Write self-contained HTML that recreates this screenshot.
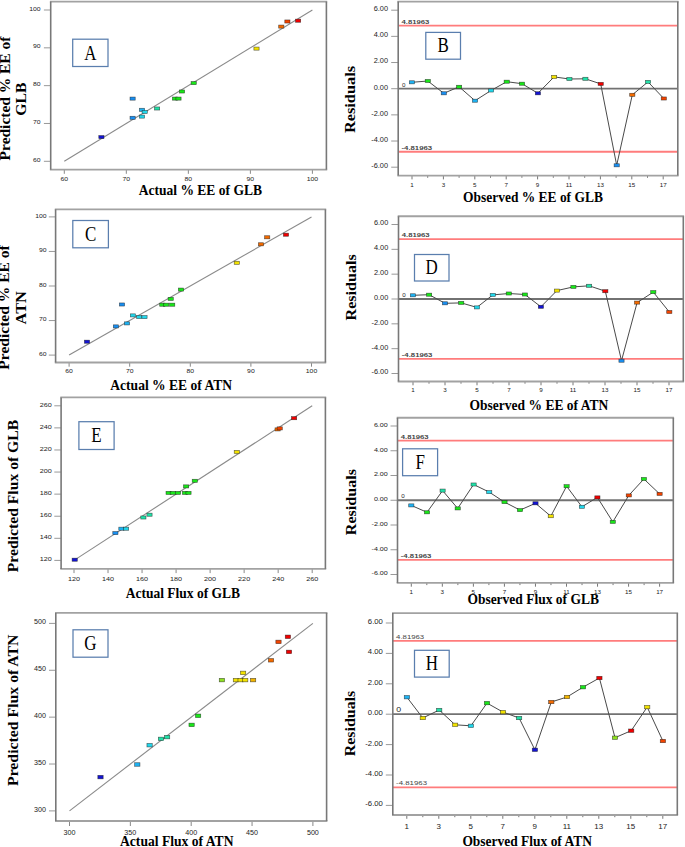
<!DOCTYPE html>
<html><head><meta charset="utf-8"><title>Figure</title>
<style>html,body{margin:0;padding:0;background:#fff;}svg{display:block;}</style></head>
<body>
<svg width="685" height="847" viewBox="0 0 685 847">
<rect x="0" y="0" width="685" height="847" fill="#fff" stroke="none" stroke-width="1" />
<g>
<line x1="64.3" y1="169.6" x2="64.3" y2="173.8" stroke="#888" stroke-width="1" />
<line x1="43.9" y1="161.3" x2="50.7" y2="161.3" stroke="#999" stroke-width="1" />
<text x="64.3" y="180.62" text-anchor="middle" font-family="Liberation Sans" font-size="5.6" fill="#222" textLength="7.6" lengthAdjust="spacingAndGlyphs">60</text>
<text x="40.6" y="161.92" text-anchor="end" font-family="Liberation Sans" font-size="5.6" fill="#222" textLength="7.6" lengthAdjust="spacingAndGlyphs">60</text>
<line x1="126.32" y1="169.6" x2="126.32" y2="173.8" stroke="#888" stroke-width="1" />
<line x1="43.9" y1="123.48" x2="50.7" y2="123.48" stroke="#999" stroke-width="1" />
<text x="126.32" y="180.62" text-anchor="middle" font-family="Liberation Sans" font-size="5.6" fill="#222" textLength="7.6" lengthAdjust="spacingAndGlyphs">70</text>
<text x="40.6" y="124.09" text-anchor="end" font-family="Liberation Sans" font-size="5.6" fill="#222" textLength="7.6" lengthAdjust="spacingAndGlyphs">70</text>
<line x1="188.35" y1="169.6" x2="188.35" y2="173.8" stroke="#888" stroke-width="1" />
<line x1="43.9" y1="85.65" x2="50.7" y2="85.65" stroke="#999" stroke-width="1" />
<text x="188.35" y="180.62" text-anchor="middle" font-family="Liberation Sans" font-size="5.6" fill="#222" textLength="7.6" lengthAdjust="spacingAndGlyphs">80</text>
<text x="40.6" y="86.27" text-anchor="end" font-family="Liberation Sans" font-size="5.6" fill="#222" textLength="7.6" lengthAdjust="spacingAndGlyphs">80</text>
<line x1="250.38" y1="169.6" x2="250.38" y2="173.8" stroke="#888" stroke-width="1" />
<line x1="43.9" y1="47.83" x2="50.7" y2="47.83" stroke="#999" stroke-width="1" />
<text x="250.38" y="180.62" text-anchor="middle" font-family="Liberation Sans" font-size="5.6" fill="#222" textLength="7.6" lengthAdjust="spacingAndGlyphs">90</text>
<text x="40.6" y="48.44" text-anchor="end" font-family="Liberation Sans" font-size="5.6" fill="#222" textLength="7.6" lengthAdjust="spacingAndGlyphs">90</text>
<line x1="312.4" y1="169.6" x2="312.4" y2="173.8" stroke="#888" stroke-width="1" />
<line x1="43.9" y1="10" x2="50.7" y2="10" stroke="#999" stroke-width="1" />
<text x="312.4" y="180.62" text-anchor="middle" font-family="Liberation Sans" font-size="5.6" fill="#222" textLength="11.4" lengthAdjust="spacingAndGlyphs">100</text>
<text x="40.6" y="10.62" text-anchor="end" font-family="Liberation Sans" font-size="5.6" fill="#222" textLength="11.4" lengthAdjust="spacingAndGlyphs">100</text>
<line x1="64.3" y1="161.3" x2="312.4" y2="10" stroke="#8a8a8a" stroke-width="1.1" />
<line x1="49.9" y1="1.6" x2="327.2" y2="1.6" stroke="#a2a2a2" stroke-width="1.9" />
<line x1="49.9" y1="169.6" x2="327.2" y2="169.6" stroke="#a2a2a2" stroke-width="1.9" />
<line x1="50.7" y1="1.6" x2="50.7" y2="169.6" stroke="#787878" stroke-width="1.6" />
<line x1="326.4" y1="1.6" x2="326.4" y2="169.6" stroke="#787878" stroke-width="1.6" />
<rect x="98.8" y="135.55" width="5.2" height="3.1" fill="#1414d2" stroke="#1a1a1a" stroke-width="0.6" stroke-opacity="0.7"/>
<rect x="130" y="97.05" width="5.2" height="3.1" fill="#1a8ff0" stroke="#1a1a1a" stroke-width="0.6" stroke-opacity="0.7"/>
<rect x="130" y="116.25" width="5.2" height="3.1" fill="#1a8ff0" stroke="#1a1a1a" stroke-width="0.6" stroke-opacity="0.7"/>
<rect x="139.4" y="108.25" width="5.2" height="3.1" fill="#1fb2f2" stroke="#1a1a1a" stroke-width="0.6" stroke-opacity="0.7"/>
<rect x="142.1" y="110.45" width="5.2" height="3.1" fill="#22d6ea" stroke="#1a1a1a" stroke-width="0.6" stroke-opacity="0.7"/>
<rect x="139.4" y="115.05" width="5.2" height="3.1" fill="#22d6ea" stroke="#1a1a1a" stroke-width="0.6" stroke-opacity="0.7"/>
<rect x="154.5" y="106.95" width="5.2" height="3.1" fill="#22e0a8" stroke="#1a1a1a" stroke-width="0.6" stroke-opacity="0.7"/>
<rect x="172.4" y="97.05" width="5.2" height="3.1" fill="#1ae61a" stroke="#1a1a1a" stroke-width="0.6" stroke-opacity="0.7"/>
<rect x="175.9" y="97.05" width="5.2" height="3.1" fill="#1ae61a" stroke="#1a1a1a" stroke-width="0.6" stroke-opacity="0.7"/>
<rect x="179.4" y="89.95" width="5.2" height="3.1" fill="#1ae61a" stroke="#1a1a1a" stroke-width="0.6" stroke-opacity="0.7"/>
<rect x="191.1" y="81.55" width="5.2" height="3.1" fill="#1ae61a" stroke="#1a1a1a" stroke-width="0.6" stroke-opacity="0.7"/>
<rect x="253.9" y="47.05" width="5.2" height="3.1" fill="#f2e200" stroke="#1a1a1a" stroke-width="0.6" stroke-opacity="0.7"/>
<rect x="278.7" y="25.05" width="5.2" height="3.1" fill="#f26a00" stroke="#1a1a1a" stroke-width="0.6" stroke-opacity="0.7"/>
<rect x="284.8" y="19.95" width="5.2" height="3.1" fill="#f24400" stroke="#1a1a1a" stroke-width="0.6" stroke-opacity="0.7"/>
<rect x="295.5" y="19.15" width="5.2" height="3.1" fill="#f00000" stroke="#1a1a1a" stroke-width="0.6" stroke-opacity="0.7"/>
<rect x="72.7" y="39.2" width="35.3" height="27.3" fill="#fff" stroke="#5a7eae" stroke-width="1.25" />
<g transform="translate(90.35,59.52) scale(0.84,1)"><text x="0" y="0" text-anchor="middle" font-family="Liberation Serif" font-size="20.2" fill="#000">A</text></g>
<text x="138.7" y="195.3" font-family="Liberation Serif" font-weight="bold" font-size="15.6" fill="#000" textLength="123.3" lengthAdjust="spacingAndGlyphs">Actual % EE of GLB</text>
<g transform="translate(9.6,98.5) scale(0.93,1) rotate(-90)"><text x="0" y="0" text-anchor="middle" font-family="Liberation Serif" font-weight="bold" font-size="15.5" fill="#000" textLength="123.8" lengthAdjust="spacingAndGlyphs">Predicted % EE of</text></g>
<g transform="translate(25.7,99.15) scale(0.93,1) rotate(-90)"><text x="0" y="0" text-anchor="middle" font-family="Liberation Serif" font-weight="bold" font-size="15.5" fill="#000" textLength="33.3" lengthAdjust="spacingAndGlyphs">GLB</text></g>
<line x1="391.2" y1="10.2" x2="398.2" y2="10.2" stroke="#999" stroke-width="1" />
<text x="388" y="11.1" text-anchor="end" font-family="Liberation Sans" font-size="6.4" fill="#222" textLength="14.32" lengthAdjust="spacingAndGlyphs">6.00</text>
<line x1="391.2" y1="36.37" x2="398.2" y2="36.37" stroke="#999" stroke-width="1" />
<text x="388" y="37.27" text-anchor="end" font-family="Liberation Sans" font-size="6.4" fill="#222" textLength="14.32" lengthAdjust="spacingAndGlyphs">4.00</text>
<line x1="391.2" y1="62.53" x2="398.2" y2="62.53" stroke="#999" stroke-width="1" />
<text x="388" y="63.44" text-anchor="end" font-family="Liberation Sans" font-size="6.4" fill="#222" textLength="14.32" lengthAdjust="spacingAndGlyphs">2.00</text>
<line x1="391.2" y1="88.7" x2="398.2" y2="88.7" stroke="#999" stroke-width="1" />
<text x="388" y="89.6" text-anchor="end" font-family="Liberation Sans" font-size="6.4" fill="#222" textLength="14.32" lengthAdjust="spacingAndGlyphs">0.00</text>
<line x1="391.2" y1="114.87" x2="398.2" y2="114.87" stroke="#999" stroke-width="1" />
<text x="388" y="115.77" text-anchor="end" font-family="Liberation Sans" font-size="6.4" fill="#222" textLength="16.77" lengthAdjust="spacingAndGlyphs">-2.00</text>
<line x1="391.2" y1="141.03" x2="398.2" y2="141.03" stroke="#999" stroke-width="1" />
<text x="388" y="141.94" text-anchor="end" font-family="Liberation Sans" font-size="6.4" fill="#222" textLength="16.77" lengthAdjust="spacingAndGlyphs">-4.00</text>
<line x1="391.2" y1="167.2" x2="398.2" y2="167.2" stroke="#999" stroke-width="1" />
<text x="388" y="168.1" text-anchor="end" font-family="Liberation Sans" font-size="6.4" fill="#222" textLength="16.77" lengthAdjust="spacingAndGlyphs">-6.00</text>
<line x1="412" y1="175.6" x2="412" y2="179.4" stroke="#777" stroke-width="1" />
<text x="412" y="187.1" text-anchor="middle" font-family="Liberation Sans" font-size="5.0" fill="#222" textLength="3.48" lengthAdjust="spacingAndGlyphs">1</text>
<line x1="427.7" y1="175.6" x2="427.7" y2="177.8" stroke="#777" stroke-width="1" />
<line x1="443.4" y1="175.6" x2="443.4" y2="179.4" stroke="#777" stroke-width="1" />
<text x="443.4" y="187.1" text-anchor="middle" font-family="Liberation Sans" font-size="5.0" fill="#222" textLength="3.48" lengthAdjust="spacingAndGlyphs">3</text>
<line x1="459.1" y1="175.6" x2="459.1" y2="177.8" stroke="#777" stroke-width="1" />
<line x1="474.8" y1="175.6" x2="474.8" y2="179.4" stroke="#777" stroke-width="1" />
<text x="474.8" y="187.1" text-anchor="middle" font-family="Liberation Sans" font-size="5.0" fill="#222" textLength="3.48" lengthAdjust="spacingAndGlyphs">5</text>
<line x1="490.5" y1="175.6" x2="490.5" y2="177.8" stroke="#777" stroke-width="1" />
<line x1="506.2" y1="175.6" x2="506.2" y2="179.4" stroke="#777" stroke-width="1" />
<text x="506.2" y="187.1" text-anchor="middle" font-family="Liberation Sans" font-size="5.0" fill="#222" textLength="3.48" lengthAdjust="spacingAndGlyphs">7</text>
<line x1="521.9" y1="175.6" x2="521.9" y2="177.8" stroke="#777" stroke-width="1" />
<line x1="537.6" y1="175.6" x2="537.6" y2="179.4" stroke="#777" stroke-width="1" />
<text x="537.6" y="187.1" text-anchor="middle" font-family="Liberation Sans" font-size="5.0" fill="#222" textLength="3.48" lengthAdjust="spacingAndGlyphs">9</text>
<line x1="553.3" y1="175.6" x2="553.3" y2="177.8" stroke="#777" stroke-width="1" />
<line x1="569" y1="175.6" x2="569" y2="179.4" stroke="#777" stroke-width="1" />
<text x="569" y="187.1" text-anchor="middle" font-family="Liberation Sans" font-size="5.0" fill="#222" textLength="6.49" lengthAdjust="spacingAndGlyphs">11</text>
<line x1="584.7" y1="175.6" x2="584.7" y2="177.8" stroke="#777" stroke-width="1" />
<line x1="600.4" y1="175.6" x2="600.4" y2="179.4" stroke="#777" stroke-width="1" />
<text x="600.4" y="187.1" text-anchor="middle" font-family="Liberation Sans" font-size="5.0" fill="#222" textLength="6.95" lengthAdjust="spacingAndGlyphs">13</text>
<line x1="616.1" y1="175.6" x2="616.1" y2="177.8" stroke="#777" stroke-width="1" />
<line x1="631.8" y1="175.6" x2="631.8" y2="179.4" stroke="#777" stroke-width="1" />
<text x="631.8" y="187.1" text-anchor="middle" font-family="Liberation Sans" font-size="5.0" fill="#222" textLength="6.95" lengthAdjust="spacingAndGlyphs">15</text>
<line x1="647.5" y1="175.6" x2="647.5" y2="177.8" stroke="#777" stroke-width="1" />
<line x1="663.2" y1="175.6" x2="663.2" y2="179.4" stroke="#777" stroke-width="1" />
<text x="663.2" y="187.1" text-anchor="middle" font-family="Liberation Sans" font-size="5.0" fill="#222" textLength="6.95" lengthAdjust="spacingAndGlyphs">17</text>
<line x1="398.2" y1="25.64" x2="677.8" y2="25.64" stroke="#ff7c7c" stroke-width="1.8" />
<text x="401.5" y="23.84" font-family="Liberation Sans" font-weight="bold" font-size="4.9" fill="#444" textLength="27.8" lengthAdjust="spacingAndGlyphs">4.81963</text>
<line x1="398.2" y1="151.76" x2="677.8" y2="151.76" stroke="#ff7c7c" stroke-width="1.8" />
<text x="401.5" y="149.96" font-family="Liberation Sans" font-weight="bold" font-size="4.9" fill="#444" textLength="30.58" lengthAdjust="spacingAndGlyphs">-4.81963</text>
<line x1="398.2" y1="88.7" x2="677.8" y2="88.7" stroke="#727272" stroke-width="1.8" />
<text x="403.7" y="86.9" text-anchor="middle" font-family="Liberation Sans" font-size="5.0" fill="#222" textLength="3.48" lengthAdjust="spacingAndGlyphs">0</text>
<polyline points="411.9,82.3 427.8,81 443.8,93.3 459.1,86.8 475,100.7 491,90.5 506.7,81.7 522,83.7 537.9,93.3 554.1,76.9 569.4,79 585.4,78.8 600.7,83.9 616.7,165.3 632.3,94.8 648,81.9 663.8,98.5" fill="none" stroke="#4a4a4a" stroke-width="1"/>
<line x1="397.4" y1="1.6" x2="678.6" y2="1.6" stroke="#a2a2a2" stroke-width="1.9" />
<line x1="397.4" y1="175.6" x2="678.6" y2="175.6" stroke="#a2a2a2" stroke-width="1.9" />
<line x1="398.2" y1="1.6" x2="398.2" y2="175.6" stroke="#787878" stroke-width="1.6" />
<line x1="677.8" y1="1.6" x2="677.8" y2="175.6" stroke="#787878" stroke-width="1.6" />
<rect x="409.3" y="80.75" width="5.2" height="3.1" fill="#1fb2f2" stroke="#1a1a1a" stroke-width="0.6" stroke-opacity="0.7"/>
<rect x="425.2" y="79.45" width="5.2" height="3.1" fill="#1ae61a" stroke="#1a1a1a" stroke-width="0.6" stroke-opacity="0.7"/>
<rect x="441.2" y="91.75" width="5.2" height="3.1" fill="#1a8ff0" stroke="#1a1a1a" stroke-width="0.6" stroke-opacity="0.7"/>
<rect x="456.5" y="85.25" width="5.2" height="3.1" fill="#1ae61a" stroke="#1a1a1a" stroke-width="0.6" stroke-opacity="0.7"/>
<rect x="472.4" y="99.15" width="5.2" height="3.1" fill="#1fb2f2" stroke="#1a1a1a" stroke-width="0.6" stroke-opacity="0.7"/>
<rect x="488.4" y="88.95" width="5.2" height="3.1" fill="#22d6ea" stroke="#1a1a1a" stroke-width="0.6" stroke-opacity="0.7"/>
<rect x="504.1" y="80.15" width="5.2" height="3.1" fill="#1ae61a" stroke="#1a1a1a" stroke-width="0.6" stroke-opacity="0.7"/>
<rect x="519.4" y="82.15" width="5.2" height="3.1" fill="#1ae61a" stroke="#1a1a1a" stroke-width="0.6" stroke-opacity="0.7"/>
<rect x="535.3" y="91.75" width="5.2" height="3.1" fill="#1414d2" stroke="#1a1a1a" stroke-width="0.6" stroke-opacity="0.7"/>
<rect x="551.5" y="75.35" width="5.2" height="3.1" fill="#f2e200" stroke="#1a1a1a" stroke-width="0.6" stroke-opacity="0.7"/>
<rect x="566.8" y="77.45" width="5.2" height="3.1" fill="#22e0a8" stroke="#1a1a1a" stroke-width="0.6" stroke-opacity="0.7"/>
<rect x="582.8" y="77.25" width="5.2" height="3.1" fill="#22e0a8" stroke="#1a1a1a" stroke-width="0.6" stroke-opacity="0.7"/>
<rect x="598.1" y="82.35" width="5.2" height="3.1" fill="#f00000" stroke="#1a1a1a" stroke-width="0.6" stroke-opacity="0.7"/>
<rect x="614.1" y="163.75" width="5.2" height="3.1" fill="#1a8ff0" stroke="#1a1a1a" stroke-width="0.6" stroke-opacity="0.7"/>
<rect x="629.7" y="93.25" width="5.2" height="3.1" fill="#f26a00" stroke="#1a1a1a" stroke-width="0.6" stroke-opacity="0.7"/>
<rect x="645.4" y="80.35" width="5.2" height="3.1" fill="#22e0a8" stroke="#1a1a1a" stroke-width="0.6" stroke-opacity="0.7"/>
<rect x="661.2" y="96.95" width="5.2" height="3.1" fill="#f24400" stroke="#1a1a1a" stroke-width="0.6" stroke-opacity="0.7"/>
<rect x="425.8" y="32.4" width="34.7" height="26.8" fill="#fff" stroke="#5a7eae" stroke-width="1.25" />
<g transform="translate(443.15,52.47) scale(0.84,1)"><text x="0" y="0" text-anchor="middle" font-family="Liberation Serif" font-size="20.2" fill="#000">B</text></g>
<text x="463.1" y="201.7" font-family="Liberation Serif" font-weight="bold" font-size="15" fill="#000" textLength="139.8" lengthAdjust="spacingAndGlyphs">Observed % EE of GLB</text>
<g transform="translate(355.2,99.5) scale(0.93,1) rotate(-90)"><text x="0" y="0" text-anchor="middle" font-family="Liberation Serif" font-weight="bold" font-size="15.5" fill="#000" textLength="67" lengthAdjust="spacingAndGlyphs">Residuals</text></g>
<line x1="69.1" y1="362.5" x2="69.1" y2="366.7" stroke="#888" stroke-width="1" />
<line x1="48.8" y1="355.1" x2="55.6" y2="355.1" stroke="#999" stroke-width="1" />
<text x="69.1" y="373.02" text-anchor="middle" font-family="Liberation Sans" font-size="5.6" fill="#222" textLength="7.6" lengthAdjust="spacingAndGlyphs">60</text>
<text x="46.6" y="355.72" text-anchor="end" font-family="Liberation Sans" font-size="5.6" fill="#222" textLength="7.6" lengthAdjust="spacingAndGlyphs">60</text>
<line x1="129.7" y1="362.5" x2="129.7" y2="366.7" stroke="#888" stroke-width="1" />
<line x1="48.8" y1="320.55" x2="55.6" y2="320.55" stroke="#999" stroke-width="1" />
<text x="129.7" y="373.02" text-anchor="middle" font-family="Liberation Sans" font-size="5.6" fill="#222" textLength="7.6" lengthAdjust="spacingAndGlyphs">70</text>
<text x="46.6" y="321.17" text-anchor="end" font-family="Liberation Sans" font-size="5.6" fill="#222" textLength="7.6" lengthAdjust="spacingAndGlyphs">70</text>
<line x1="190.3" y1="362.5" x2="190.3" y2="366.7" stroke="#888" stroke-width="1" />
<line x1="48.8" y1="286" x2="55.6" y2="286" stroke="#999" stroke-width="1" />
<text x="190.3" y="373.02" text-anchor="middle" font-family="Liberation Sans" font-size="5.6" fill="#222" textLength="7.6" lengthAdjust="spacingAndGlyphs">80</text>
<text x="46.6" y="286.62" text-anchor="end" font-family="Liberation Sans" font-size="5.6" fill="#222" textLength="7.6" lengthAdjust="spacingAndGlyphs">80</text>
<line x1="250.9" y1="362.5" x2="250.9" y2="366.7" stroke="#888" stroke-width="1" />
<line x1="48.8" y1="251.45" x2="55.6" y2="251.45" stroke="#999" stroke-width="1" />
<text x="250.9" y="373.02" text-anchor="middle" font-family="Liberation Sans" font-size="5.6" fill="#222" textLength="7.6" lengthAdjust="spacingAndGlyphs">90</text>
<text x="46.6" y="252.07" text-anchor="end" font-family="Liberation Sans" font-size="5.6" fill="#222" textLength="7.6" lengthAdjust="spacingAndGlyphs">90</text>
<line x1="311.5" y1="362.5" x2="311.5" y2="366.7" stroke="#888" stroke-width="1" />
<line x1="48.8" y1="216.9" x2="55.6" y2="216.9" stroke="#999" stroke-width="1" />
<text x="311.5" y="373.02" text-anchor="middle" font-family="Liberation Sans" font-size="5.6" fill="#222" textLength="11.4" lengthAdjust="spacingAndGlyphs">100</text>
<text x="46.6" y="217.52" text-anchor="end" font-family="Liberation Sans" font-size="5.6" fill="#222" textLength="11.4" lengthAdjust="spacingAndGlyphs">100</text>
<line x1="69.1" y1="355.1" x2="311.5" y2="216.9" stroke="#8a8a8a" stroke-width="1.1" />
<line x1="54.8" y1="209.4" x2="326.2" y2="209.4" stroke="#a2a2a2" stroke-width="1.9" />
<line x1="54.8" y1="362.5" x2="326.2" y2="362.5" stroke="#a2a2a2" stroke-width="1.9" />
<line x1="55.6" y1="209.4" x2="55.6" y2="362.5" stroke="#787878" stroke-width="1.6" />
<line x1="325.4" y1="209.4" x2="325.4" y2="362.5" stroke="#787878" stroke-width="1.6" />
<rect x="84.4" y="340.15" width="5.2" height="3.1" fill="#1414d2" stroke="#1a1a1a" stroke-width="0.6" stroke-opacity="0.7"/>
<rect x="113.3" y="324.85" width="5.2" height="3.1" fill="#1a8ff0" stroke="#1a1a1a" stroke-width="0.6" stroke-opacity="0.7"/>
<rect x="124.4" y="321.85" width="5.2" height="3.1" fill="#1fb2f2" stroke="#1a1a1a" stroke-width="0.6" stroke-opacity="0.7"/>
<rect x="119.4" y="302.95" width="5.2" height="3.1" fill="#1a8ff0" stroke="#1a1a1a" stroke-width="0.6" stroke-opacity="0.7"/>
<rect x="130.3" y="313.85" width="5.2" height="3.1" fill="#22d6ea" stroke="#1a1a1a" stroke-width="0.6" stroke-opacity="0.7"/>
<rect x="136.6" y="315.45" width="5.2" height="3.1" fill="#22d6ea" stroke="#1a1a1a" stroke-width="0.6" stroke-opacity="0.7"/>
<rect x="141.9" y="315.55" width="5.2" height="3.1" fill="#22d6ea" stroke="#1a1a1a" stroke-width="0.6" stroke-opacity="0.7"/>
<rect x="159.7" y="303.15" width="5.2" height="3.1" fill="#1ae61a" stroke="#1a1a1a" stroke-width="0.6" stroke-opacity="0.7"/>
<rect x="163.6" y="303.15" width="5.2" height="3.1" fill="#1ae61a" stroke="#1a1a1a" stroke-width="0.6" stroke-opacity="0.7"/>
<rect x="169.6" y="303.15" width="5.2" height="3.1" fill="#1ae61a" stroke="#1a1a1a" stroke-width="0.6" stroke-opacity="0.7"/>
<rect x="168.1" y="297.35" width="5.2" height="3.1" fill="#1ae61a" stroke="#1a1a1a" stroke-width="0.6" stroke-opacity="0.7"/>
<rect x="178.4" y="288.05" width="5.2" height="3.1" fill="#1ae61a" stroke="#1a1a1a" stroke-width="0.6" stroke-opacity="0.7"/>
<rect x="234.2" y="261.25" width="5.2" height="3.1" fill="#f2e200" stroke="#1a1a1a" stroke-width="0.6" stroke-opacity="0.7"/>
<rect x="258.4" y="242.75" width="5.2" height="3.1" fill="#f26a00" stroke="#1a1a1a" stroke-width="0.6" stroke-opacity="0.7"/>
<rect x="264.6" y="235.75" width="5.2" height="3.1" fill="#f26a00" stroke="#1a1a1a" stroke-width="0.6" stroke-opacity="0.7"/>
<rect x="283.4" y="233.15" width="5.2" height="3.1" fill="#f00000" stroke="#1a1a1a" stroke-width="0.6" stroke-opacity="0.7"/>
<rect x="72.8" y="220.5" width="35.6" height="27.3" fill="#fff" stroke="#5a7eae" stroke-width="1.25" />
<g transform="translate(90.6,240.82) scale(0.84,1)"><text x="0" y="0" text-anchor="middle" font-family="Liberation Serif" font-size="20.2" fill="#000">C</text></g>
<text x="110.3" y="389.7" font-family="Liberation Serif" font-weight="bold" font-size="15" fill="#000" textLength="121.7" lengthAdjust="spacingAndGlyphs">Actual % EE of ATN</text>
<g transform="translate(9.4,307.45) scale(0.93,1) rotate(-90)"><text x="0" y="0" text-anchor="middle" font-family="Liberation Serif" font-weight="bold" font-size="15.5" fill="#000" textLength="124.5" lengthAdjust="spacingAndGlyphs">Predicted % EE of</text></g>
<g transform="translate(26,307.85) scale(0.93,1) rotate(-90)"><text x="0" y="0" text-anchor="middle" font-family="Liberation Serif" font-weight="bold" font-size="15.5" fill="#000" textLength="33.1" lengthAdjust="spacingAndGlyphs">ATN</text></g>
<line x1="391.5" y1="224.5" x2="398.5" y2="224.5" stroke="#999" stroke-width="1" />
<text x="388.3" y="225.4" text-anchor="end" font-family="Liberation Sans" font-size="6.4" fill="#222" textLength="14.32" lengthAdjust="spacingAndGlyphs">6.00</text>
<line x1="391.5" y1="249.33" x2="398.5" y2="249.33" stroke="#999" stroke-width="1" />
<text x="388.3" y="250.24" text-anchor="end" font-family="Liberation Sans" font-size="6.4" fill="#222" textLength="14.32" lengthAdjust="spacingAndGlyphs">4.00</text>
<line x1="391.5" y1="274.17" x2="398.5" y2="274.17" stroke="#999" stroke-width="1" />
<text x="388.3" y="275.07" text-anchor="end" font-family="Liberation Sans" font-size="6.4" fill="#222" textLength="14.32" lengthAdjust="spacingAndGlyphs">2.00</text>
<line x1="391.5" y1="299" x2="398.5" y2="299" stroke="#999" stroke-width="1" />
<text x="388.3" y="299.9" text-anchor="end" font-family="Liberation Sans" font-size="6.4" fill="#222" textLength="14.32" lengthAdjust="spacingAndGlyphs">0.00</text>
<line x1="391.5" y1="323.83" x2="398.5" y2="323.83" stroke="#999" stroke-width="1" />
<text x="388.3" y="324.74" text-anchor="end" font-family="Liberation Sans" font-size="6.4" fill="#222" textLength="16.77" lengthAdjust="spacingAndGlyphs">-2.00</text>
<line x1="391.5" y1="348.67" x2="398.5" y2="348.67" stroke="#999" stroke-width="1" />
<text x="388.3" y="349.57" text-anchor="end" font-family="Liberation Sans" font-size="6.4" fill="#222" textLength="16.77" lengthAdjust="spacingAndGlyphs">-4.00</text>
<line x1="391.5" y1="373.5" x2="398.5" y2="373.5" stroke="#999" stroke-width="1" />
<text x="388.3" y="374.4" text-anchor="end" font-family="Liberation Sans" font-size="6.4" fill="#222" textLength="16.77" lengthAdjust="spacingAndGlyphs">-6.00</text>
<line x1="413" y1="381.5" x2="413" y2="385.3" stroke="#777" stroke-width="1" />
<text x="413" y="392.3" text-anchor="middle" font-family="Liberation Sans" font-size="5.0" fill="#222" textLength="3.48" lengthAdjust="spacingAndGlyphs">1</text>
<line x1="429" y1="381.5" x2="429" y2="383.7" stroke="#777" stroke-width="1" />
<line x1="445" y1="381.5" x2="445" y2="385.3" stroke="#777" stroke-width="1" />
<text x="445" y="392.3" text-anchor="middle" font-family="Liberation Sans" font-size="5.0" fill="#222" textLength="3.48" lengthAdjust="spacingAndGlyphs">3</text>
<line x1="461" y1="381.5" x2="461" y2="383.7" stroke="#777" stroke-width="1" />
<line x1="477" y1="381.5" x2="477" y2="385.3" stroke="#777" stroke-width="1" />
<text x="477" y="392.3" text-anchor="middle" font-family="Liberation Sans" font-size="5.0" fill="#222" textLength="3.48" lengthAdjust="spacingAndGlyphs">5</text>
<line x1="493" y1="381.5" x2="493" y2="383.7" stroke="#777" stroke-width="1" />
<line x1="509" y1="381.5" x2="509" y2="385.3" stroke="#777" stroke-width="1" />
<text x="509" y="392.3" text-anchor="middle" font-family="Liberation Sans" font-size="5.0" fill="#222" textLength="3.48" lengthAdjust="spacingAndGlyphs">7</text>
<line x1="525" y1="381.5" x2="525" y2="383.7" stroke="#777" stroke-width="1" />
<line x1="541" y1="381.5" x2="541" y2="385.3" stroke="#777" stroke-width="1" />
<text x="541" y="392.3" text-anchor="middle" font-family="Liberation Sans" font-size="5.0" fill="#222" textLength="3.48" lengthAdjust="spacingAndGlyphs">9</text>
<line x1="557" y1="381.5" x2="557" y2="383.7" stroke="#777" stroke-width="1" />
<line x1="573" y1="381.5" x2="573" y2="385.3" stroke="#777" stroke-width="1" />
<text x="573" y="392.3" text-anchor="middle" font-family="Liberation Sans" font-size="5.0" fill="#222" textLength="6.49" lengthAdjust="spacingAndGlyphs">11</text>
<line x1="589" y1="381.5" x2="589" y2="383.7" stroke="#777" stroke-width="1" />
<line x1="605" y1="381.5" x2="605" y2="385.3" stroke="#777" stroke-width="1" />
<text x="605" y="392.3" text-anchor="middle" font-family="Liberation Sans" font-size="5.0" fill="#222" textLength="6.95" lengthAdjust="spacingAndGlyphs">13</text>
<line x1="621" y1="381.5" x2="621" y2="383.7" stroke="#777" stroke-width="1" />
<line x1="637" y1="381.5" x2="637" y2="385.3" stroke="#777" stroke-width="1" />
<text x="637" y="392.3" text-anchor="middle" font-family="Liberation Sans" font-size="5.0" fill="#222" textLength="6.95" lengthAdjust="spacingAndGlyphs">15</text>
<line x1="653" y1="381.5" x2="653" y2="383.7" stroke="#777" stroke-width="1" />
<line x1="669" y1="381.5" x2="669" y2="385.3" stroke="#777" stroke-width="1" />
<text x="669" y="392.3" text-anchor="middle" font-family="Liberation Sans" font-size="5.0" fill="#222" textLength="6.95" lengthAdjust="spacingAndGlyphs">17</text>
<line x1="398.5" y1="239.16" x2="683.3" y2="239.16" stroke="#ff7c7c" stroke-width="1.8" />
<text x="401.8" y="237.36" font-family="Liberation Sans" font-weight="bold" font-size="4.9" fill="#444" textLength="27.8" lengthAdjust="spacingAndGlyphs">4.81963</text>
<line x1="398.5" y1="358.84" x2="683.3" y2="358.84" stroke="#ff7c7c" stroke-width="1.8" />
<text x="401.8" y="357.04" font-family="Liberation Sans" font-weight="bold" font-size="4.9" fill="#444" textLength="30.58" lengthAdjust="spacingAndGlyphs">-4.81963</text>
<line x1="398.5" y1="299" x2="683.3" y2="299" stroke="#727272" stroke-width="1.8" />
<text x="404" y="297.2" text-anchor="middle" font-family="Liberation Sans" font-size="5.0" fill="#222" textLength="3.48" lengthAdjust="spacingAndGlyphs">0</text>
<polyline points="412.9,295.3 429.1,294.7 445,303.3 461.2,302.9 476.9,307.4 492.8,294.9 508.8,293.5 524.9,294.5 540.9,306.8 556.9,290.6 573.4,286.9 589.1,285.8 605.3,291.2 621.5,360.7 637.1,302.6 653.3,292.1 669.3,312" fill="none" stroke="#4a4a4a" stroke-width="1"/>
<line x1="397.7" y1="216.3" x2="684.1" y2="216.3" stroke="#a2a2a2" stroke-width="1.9" />
<line x1="397.7" y1="381.5" x2="684.1" y2="381.5" stroke="#a2a2a2" stroke-width="1.9" />
<line x1="398.5" y1="216.3" x2="398.5" y2="381.5" stroke="#787878" stroke-width="1.6" />
<line x1="683.3" y1="216.3" x2="683.3" y2="381.5" stroke="#787878" stroke-width="1.6" />
<rect x="410.3" y="293.75" width="5.2" height="3.1" fill="#1fb2f2" stroke="#1a1a1a" stroke-width="0.6" stroke-opacity="0.7"/>
<rect x="426.5" y="293.15" width="5.2" height="3.1" fill="#1ae61a" stroke="#1a1a1a" stroke-width="0.6" stroke-opacity="0.7"/>
<rect x="442.4" y="301.75" width="5.2" height="3.1" fill="#1a8ff0" stroke="#1a1a1a" stroke-width="0.6" stroke-opacity="0.7"/>
<rect x="458.6" y="301.35" width="5.2" height="3.1" fill="#1ae61a" stroke="#1a1a1a" stroke-width="0.6" stroke-opacity="0.7"/>
<rect x="474.3" y="305.85" width="5.2" height="3.1" fill="#22d6ea" stroke="#1a1a1a" stroke-width="0.6" stroke-opacity="0.7"/>
<rect x="490.2" y="293.35" width="5.2" height="3.1" fill="#22d6ea" stroke="#1a1a1a" stroke-width="0.6" stroke-opacity="0.7"/>
<rect x="506.2" y="291.95" width="5.2" height="3.1" fill="#1ae61a" stroke="#1a1a1a" stroke-width="0.6" stroke-opacity="0.7"/>
<rect x="522.3" y="292.95" width="5.2" height="3.1" fill="#1ae61a" stroke="#1a1a1a" stroke-width="0.6" stroke-opacity="0.7"/>
<rect x="538.3" y="305.25" width="5.2" height="3.1" fill="#1414d2" stroke="#1a1a1a" stroke-width="0.6" stroke-opacity="0.7"/>
<rect x="554.3" y="289.05" width="5.2" height="3.1" fill="#f2e200" stroke="#1a1a1a" stroke-width="0.6" stroke-opacity="0.7"/>
<rect x="570.8" y="285.35" width="5.2" height="3.1" fill="#1ae61a" stroke="#1a1a1a" stroke-width="0.6" stroke-opacity="0.7"/>
<rect x="586.5" y="284.25" width="5.2" height="3.1" fill="#22e0a8" stroke="#1a1a1a" stroke-width="0.6" stroke-opacity="0.7"/>
<rect x="602.7" y="289.65" width="5.2" height="3.1" fill="#f00000" stroke="#1a1a1a" stroke-width="0.6" stroke-opacity="0.7"/>
<rect x="618.9" y="359.15" width="5.2" height="3.1" fill="#1a8ff0" stroke="#1a1a1a" stroke-width="0.6" stroke-opacity="0.7"/>
<rect x="634.5" y="301.05" width="5.2" height="3.1" fill="#f26a00" stroke="#1a1a1a" stroke-width="0.6" stroke-opacity="0.7"/>
<rect x="650.7" y="290.55" width="5.2" height="3.1" fill="#1ae61a" stroke="#1a1a1a" stroke-width="0.6" stroke-opacity="0.7"/>
<rect x="666.7" y="310.45" width="5.2" height="3.1" fill="#f24400" stroke="#1a1a1a" stroke-width="0.6" stroke-opacity="0.7"/>
<rect x="414.5" y="254.5" width="34.5" height="26.5" fill="#fff" stroke="#5a7eae" stroke-width="1.25" />
<g transform="translate(431.75,274.42) scale(0.84,1)"><text x="0" y="0" text-anchor="middle" font-family="Liberation Serif" font-size="20.2" fill="#000">D</text></g>
<text x="469.6" y="409.5" font-family="Liberation Serif" font-weight="bold" font-size="15" fill="#000" textLength="138.6" lengthAdjust="spacingAndGlyphs">Observed % EE of ATN</text>
<g transform="translate(355.6,287.4) scale(0.93,1) rotate(-90)"><text x="0" y="0" text-anchor="middle" font-family="Liberation Serif" font-weight="bold" font-size="15.5" fill="#000" textLength="66.2" lengthAdjust="spacingAndGlyphs">Residuals</text></g>
<line x1="74" y1="568.9" x2="74" y2="573.1" stroke="#888" stroke-width="1" />
<line x1="54.3" y1="560.4" x2="61.1" y2="560.4" stroke="#999" stroke-width="1" />
<text x="74" y="580.5" text-anchor="middle" font-family="Liberation Sans" font-size="6.1" fill="#222" textLength="12.01" lengthAdjust="spacingAndGlyphs">120</text>
<text x="51.8" y="561.2" text-anchor="end" font-family="Liberation Sans" font-size="6.1" fill="#222" textLength="12.01" lengthAdjust="spacingAndGlyphs">120</text>
<line x1="108.03" y1="568.9" x2="108.03" y2="573.1" stroke="#888" stroke-width="1" />
<line x1="54.3" y1="538.31" x2="61.1" y2="538.31" stroke="#999" stroke-width="1" />
<text x="108.03" y="580.5" text-anchor="middle" font-family="Liberation Sans" font-size="6.1" fill="#222" textLength="12.01" lengthAdjust="spacingAndGlyphs">140</text>
<text x="51.8" y="539.11" text-anchor="end" font-family="Liberation Sans" font-size="6.1" fill="#222" textLength="12.01" lengthAdjust="spacingAndGlyphs">140</text>
<line x1="142.06" y1="568.9" x2="142.06" y2="573.1" stroke="#888" stroke-width="1" />
<line x1="54.3" y1="516.23" x2="61.1" y2="516.23" stroke="#999" stroke-width="1" />
<text x="142.06" y="580.5" text-anchor="middle" font-family="Liberation Sans" font-size="6.1" fill="#222" textLength="12.01" lengthAdjust="spacingAndGlyphs">160</text>
<text x="51.8" y="517.02" text-anchor="end" font-family="Liberation Sans" font-size="6.1" fill="#222" textLength="12.01" lengthAdjust="spacingAndGlyphs">160</text>
<line x1="176.09" y1="568.9" x2="176.09" y2="573.1" stroke="#888" stroke-width="1" />
<line x1="54.3" y1="494.14" x2="61.1" y2="494.14" stroke="#999" stroke-width="1" />
<text x="176.09" y="580.5" text-anchor="middle" font-family="Liberation Sans" font-size="6.1" fill="#222" textLength="12.01" lengthAdjust="spacingAndGlyphs">180</text>
<text x="51.8" y="494.94" text-anchor="end" font-family="Liberation Sans" font-size="6.1" fill="#222" textLength="12.01" lengthAdjust="spacingAndGlyphs">180</text>
<line x1="210.11" y1="568.9" x2="210.11" y2="573.1" stroke="#888" stroke-width="1" />
<line x1="54.3" y1="472.06" x2="61.1" y2="472.06" stroke="#999" stroke-width="1" />
<text x="210.11" y="580.5" text-anchor="middle" font-family="Liberation Sans" font-size="6.1" fill="#222" textLength="12.01" lengthAdjust="spacingAndGlyphs">200</text>
<text x="51.8" y="472.85" text-anchor="end" font-family="Liberation Sans" font-size="6.1" fill="#222" textLength="12.01" lengthAdjust="spacingAndGlyphs">200</text>
<line x1="244.14" y1="568.9" x2="244.14" y2="573.1" stroke="#888" stroke-width="1" />
<line x1="54.3" y1="449.97" x2="61.1" y2="449.97" stroke="#999" stroke-width="1" />
<text x="244.14" y="580.5" text-anchor="middle" font-family="Liberation Sans" font-size="6.1" fill="#222" textLength="12.01" lengthAdjust="spacingAndGlyphs">220</text>
<text x="51.8" y="450.77" text-anchor="end" font-family="Liberation Sans" font-size="6.1" fill="#222" textLength="12.01" lengthAdjust="spacingAndGlyphs">220</text>
<line x1="278.17" y1="568.9" x2="278.17" y2="573.1" stroke="#888" stroke-width="1" />
<line x1="54.3" y1="427.89" x2="61.1" y2="427.89" stroke="#999" stroke-width="1" />
<text x="278.17" y="580.5" text-anchor="middle" font-family="Liberation Sans" font-size="6.1" fill="#222" textLength="12.01" lengthAdjust="spacingAndGlyphs">240</text>
<text x="51.8" y="428.68" text-anchor="end" font-family="Liberation Sans" font-size="6.1" fill="#222" textLength="12.01" lengthAdjust="spacingAndGlyphs">240</text>
<line x1="312.2" y1="568.9" x2="312.2" y2="573.1" stroke="#888" stroke-width="1" />
<line x1="54.3" y1="405.8" x2="61.1" y2="405.8" stroke="#999" stroke-width="1" />
<text x="312.2" y="580.5" text-anchor="middle" font-family="Liberation Sans" font-size="6.1" fill="#222" textLength="12.01" lengthAdjust="spacingAndGlyphs">260</text>
<text x="51.8" y="406.6" text-anchor="end" font-family="Liberation Sans" font-size="6.1" fill="#222" textLength="12.01" lengthAdjust="spacingAndGlyphs">260</text>
<line x1="74" y1="560.4" x2="312.2" y2="405.8" stroke="#8a8a8a" stroke-width="1.1" />
<line x1="60.3" y1="397.4" x2="326.2" y2="397.4" stroke="#a2a2a2" stroke-width="1.9" />
<line x1="60.3" y1="568.9" x2="326.2" y2="568.9" stroke="#a2a2a2" stroke-width="1.9" />
<line x1="61.1" y1="397.4" x2="61.1" y2="568.9" stroke="#787878" stroke-width="1.6" />
<line x1="325.4" y1="397.4" x2="325.4" y2="568.9" stroke="#787878" stroke-width="1.6" />
<rect x="72.1" y="558.15" width="5.2" height="3.1" fill="#1414d2" stroke="#1a1a1a" stroke-width="0.6" stroke-opacity="0.7"/>
<rect x="112.8" y="531.55" width="5.2" height="3.1" fill="#1a8ff0" stroke="#1a1a1a" stroke-width="0.6" stroke-opacity="0.7"/>
<rect x="118.8" y="527.15" width="5.2" height="3.1" fill="#1fb2f2" stroke="#1a1a1a" stroke-width="0.6" stroke-opacity="0.7"/>
<rect x="123.5" y="527.15" width="5.2" height="3.1" fill="#22d6ea" stroke="#1a1a1a" stroke-width="0.6" stroke-opacity="0.7"/>
<rect x="140.8" y="515.95" width="5.2" height="3.1" fill="#22e0a8" stroke="#1a1a1a" stroke-width="0.6" stroke-opacity="0.7"/>
<rect x="146.9" y="513.15" width="5.2" height="3.1" fill="#22e0a8" stroke="#1a1a1a" stroke-width="0.6" stroke-opacity="0.7"/>
<rect x="166" y="491.35" width="5.2" height="3.1" fill="#1ae61a" stroke="#1a1a1a" stroke-width="0.6" stroke-opacity="0.7"/>
<rect x="170.2" y="491.35" width="5.2" height="3.1" fill="#1ae61a" stroke="#1a1a1a" stroke-width="0.6" stroke-opacity="0.7"/>
<rect x="175.4" y="491.35" width="5.2" height="3.1" fill="#1ae61a" stroke="#1a1a1a" stroke-width="0.6" stroke-opacity="0.7"/>
<rect x="182.4" y="491.35" width="5.2" height="3.1" fill="#1ae61a" stroke="#1a1a1a" stroke-width="0.6" stroke-opacity="0.7"/>
<rect x="185.9" y="491.35" width="5.2" height="3.1" fill="#1ae61a" stroke="#1a1a1a" stroke-width="0.6" stroke-opacity="0.7"/>
<rect x="183.5" y="484.85" width="5.2" height="3.1" fill="#1ae61a" stroke="#1a1a1a" stroke-width="0.6" stroke-opacity="0.7"/>
<rect x="192.2" y="479.25" width="5.2" height="3.1" fill="#1ae61a" stroke="#1a1a1a" stroke-width="0.6" stroke-opacity="0.7"/>
<rect x="234.2" y="450.45" width="5.2" height="3.1" fill="#f2e200" stroke="#1a1a1a" stroke-width="0.6" stroke-opacity="0.7"/>
<rect x="275" y="427.85" width="5.2" height="3.1" fill="#f26a00" stroke="#1a1a1a" stroke-width="0.6" stroke-opacity="0.7"/>
<rect x="277.1" y="426.85" width="5.2" height="3.1" fill="#f24400" stroke="#1a1a1a" stroke-width="0.6" stroke-opacity="0.7"/>
<rect x="291.5" y="416.65" width="5.2" height="3.1" fill="#f00000" stroke="#1a1a1a" stroke-width="0.6" stroke-opacity="0.7"/>
<rect x="78.9" y="421.7" width="35.2" height="27.8" fill="#fff" stroke="#5a7eae" stroke-width="1.25" />
<g transform="translate(96.5,442.27) scale(0.84,1)"><text x="0" y="0" text-anchor="middle" font-family="Liberation Serif" font-size="20.2" fill="#000">E</text></g>
<g transform="translate(17.5,496) scale(0.93,1) rotate(-90)"><text x="0" y="0" text-anchor="middle" font-family="Liberation Serif" font-weight="bold" font-size="15.5" fill="#000" textLength="152.4" lengthAdjust="spacingAndGlyphs">Predicted Flux of GLB</text></g>
<line x1="390.5" y1="426" x2="397.5" y2="426" stroke="#999" stroke-width="1" />
<text x="387.8" y="426.83" text-anchor="end" font-family="Liberation Sans" font-size="6.2" fill="#222" textLength="13.88" lengthAdjust="spacingAndGlyphs">6.00</text>
<line x1="390.5" y1="450.75" x2="397.5" y2="450.75" stroke="#999" stroke-width="1" />
<text x="387.8" y="451.58" text-anchor="end" font-family="Liberation Sans" font-size="6.2" fill="#222" textLength="13.88" lengthAdjust="spacingAndGlyphs">4.00</text>
<line x1="390.5" y1="475.5" x2="397.5" y2="475.5" stroke="#999" stroke-width="1" />
<text x="387.8" y="476.33" text-anchor="end" font-family="Liberation Sans" font-size="6.2" fill="#222" textLength="13.88" lengthAdjust="spacingAndGlyphs">2.00</text>
<line x1="390.5" y1="500.25" x2="397.5" y2="500.25" stroke="#999" stroke-width="1" />
<text x="387.8" y="501.08" text-anchor="end" font-family="Liberation Sans" font-size="6.2" fill="#222" textLength="13.88" lengthAdjust="spacingAndGlyphs">0.00</text>
<line x1="390.5" y1="525" x2="397.5" y2="525" stroke="#999" stroke-width="1" />
<text x="387.8" y="525.83" text-anchor="end" font-family="Liberation Sans" font-size="6.2" fill="#222" textLength="16.25" lengthAdjust="spacingAndGlyphs">-2.00</text>
<line x1="390.5" y1="549.75" x2="397.5" y2="549.75" stroke="#999" stroke-width="1" />
<text x="387.8" y="550.58" text-anchor="end" font-family="Liberation Sans" font-size="6.2" fill="#222" textLength="16.25" lengthAdjust="spacingAndGlyphs">-4.00</text>
<line x1="390.5" y1="574.5" x2="397.5" y2="574.5" stroke="#999" stroke-width="1" />
<text x="387.8" y="575.33" text-anchor="end" font-family="Liberation Sans" font-size="6.2" fill="#222" textLength="16.25" lengthAdjust="spacingAndGlyphs">-6.00</text>
<line x1="411.3" y1="582.9" x2="411.3" y2="586.7" stroke="#777" stroke-width="1" />
<text x="411.3" y="593.6" text-anchor="middle" font-family="Liberation Sans" font-size="5.0" fill="#222" textLength="3.48" lengthAdjust="spacingAndGlyphs">1</text>
<line x1="426.82" y1="582.9" x2="426.82" y2="585.1" stroke="#777" stroke-width="1" />
<line x1="442.34" y1="582.9" x2="442.34" y2="586.7" stroke="#777" stroke-width="1" />
<text x="442.34" y="593.6" text-anchor="middle" font-family="Liberation Sans" font-size="5.0" fill="#222" textLength="3.48" lengthAdjust="spacingAndGlyphs">3</text>
<line x1="457.86" y1="582.9" x2="457.86" y2="585.1" stroke="#777" stroke-width="1" />
<line x1="473.38" y1="582.9" x2="473.38" y2="586.7" stroke="#777" stroke-width="1" />
<text x="473.38" y="593.6" text-anchor="middle" font-family="Liberation Sans" font-size="5.0" fill="#222" textLength="3.48" lengthAdjust="spacingAndGlyphs">5</text>
<line x1="488.9" y1="582.9" x2="488.9" y2="585.1" stroke="#777" stroke-width="1" />
<line x1="504.42" y1="582.9" x2="504.42" y2="586.7" stroke="#777" stroke-width="1" />
<text x="504.42" y="593.6" text-anchor="middle" font-family="Liberation Sans" font-size="5.0" fill="#222" textLength="3.48" lengthAdjust="spacingAndGlyphs">7</text>
<line x1="519.94" y1="582.9" x2="519.94" y2="585.1" stroke="#777" stroke-width="1" />
<line x1="535.46" y1="582.9" x2="535.46" y2="586.7" stroke="#777" stroke-width="1" />
<text x="535.46" y="593.6" text-anchor="middle" font-family="Liberation Sans" font-size="5.0" fill="#222" textLength="3.48" lengthAdjust="spacingAndGlyphs">9</text>
<line x1="550.98" y1="582.9" x2="550.98" y2="585.1" stroke="#777" stroke-width="1" />
<line x1="566.5" y1="582.9" x2="566.5" y2="586.7" stroke="#777" stroke-width="1" />
<text x="566.5" y="593.6" text-anchor="middle" font-family="Liberation Sans" font-size="5.0" fill="#222" textLength="6.49" lengthAdjust="spacingAndGlyphs">11</text>
<line x1="582.02" y1="582.9" x2="582.02" y2="585.1" stroke="#777" stroke-width="1" />
<line x1="597.54" y1="582.9" x2="597.54" y2="586.7" stroke="#777" stroke-width="1" />
<text x="597.54" y="593.6" text-anchor="middle" font-family="Liberation Sans" font-size="5.0" fill="#222" textLength="6.95" lengthAdjust="spacingAndGlyphs">13</text>
<line x1="613.06" y1="582.9" x2="613.06" y2="585.1" stroke="#777" stroke-width="1" />
<line x1="628.58" y1="582.9" x2="628.58" y2="586.7" stroke="#777" stroke-width="1" />
<text x="628.58" y="593.6" text-anchor="middle" font-family="Liberation Sans" font-size="5.0" fill="#222" textLength="6.95" lengthAdjust="spacingAndGlyphs">15</text>
<line x1="644.1" y1="582.9" x2="644.1" y2="585.1" stroke="#777" stroke-width="1" />
<line x1="659.62" y1="582.9" x2="659.62" y2="586.7" stroke="#777" stroke-width="1" />
<text x="659.62" y="593.6" text-anchor="middle" font-family="Liberation Sans" font-size="5.0" fill="#222" textLength="6.95" lengthAdjust="spacingAndGlyphs">17</text>
<line x1="397.5" y1="440.61" x2="673.3" y2="440.61" stroke="#ff7c7c" stroke-width="1.8" />
<text x="400.8" y="438.81" font-family="Liberation Sans" font-weight="bold" font-size="4.9" fill="#444" textLength="27.8" lengthAdjust="spacingAndGlyphs">4.81963</text>
<line x1="397.5" y1="559.89" x2="673.3" y2="559.89" stroke="#ff7c7c" stroke-width="1.8" />
<text x="400.8" y="558.09" font-family="Liberation Sans" font-weight="bold" font-size="4.9" fill="#444" textLength="30.58" lengthAdjust="spacingAndGlyphs">-4.81963</text>
<line x1="397.5" y1="500.25" x2="673.3" y2="500.25" stroke="#727272" stroke-width="1.8" />
<text x="403" y="498.45" text-anchor="middle" font-family="Liberation Sans" font-size="5.0" fill="#222" textLength="3.48" lengthAdjust="spacingAndGlyphs">0</text>
<polyline points="411.3,505.4 427,512.3 442.6,490.6 457.7,508.4 473.6,484.5 489.2,492.1 504.5,502.1 520,510.1 535.5,503.3 550.8,516.2 566.6,486.2 581.9,506.8 597.4,497.4 612.8,521.9 628.8,495.4 643.9,479 659.6,493.9" fill="none" stroke="#4a4a4a" stroke-width="1"/>
<line x1="396.7" y1="417.8" x2="674.1" y2="417.8" stroke="#a2a2a2" stroke-width="1.9" />
<line x1="396.7" y1="582.9" x2="674.1" y2="582.9" stroke="#a2a2a2" stroke-width="1.9" />
<line x1="397.5" y1="417.8" x2="397.5" y2="582.9" stroke="#787878" stroke-width="1.6" />
<line x1="673.3" y1="417.8" x2="673.3" y2="582.9" stroke="#787878" stroke-width="1.6" />
<rect x="408.7" y="503.85" width="5.2" height="3.1" fill="#1fb2f2" stroke="#1a1a1a" stroke-width="0.6" stroke-opacity="0.7"/>
<rect x="424.4" y="510.75" width="5.2" height="3.1" fill="#1ae61a" stroke="#1a1a1a" stroke-width="0.6" stroke-opacity="0.7"/>
<rect x="440" y="489.05" width="5.2" height="3.1" fill="#22e0a8" stroke="#1a1a1a" stroke-width="0.6" stroke-opacity="0.7"/>
<rect x="455.1" y="506.85" width="5.2" height="3.1" fill="#1ae61a" stroke="#1a1a1a" stroke-width="0.6" stroke-opacity="0.7"/>
<rect x="471" y="482.95" width="5.2" height="3.1" fill="#22e0a8" stroke="#1a1a1a" stroke-width="0.6" stroke-opacity="0.7"/>
<rect x="486.6" y="490.55" width="5.2" height="3.1" fill="#22d6ea" stroke="#1a1a1a" stroke-width="0.6" stroke-opacity="0.7"/>
<rect x="501.9" y="500.55" width="5.2" height="3.1" fill="#1ae61a" stroke="#1a1a1a" stroke-width="0.6" stroke-opacity="0.7"/>
<rect x="517.4" y="508.55" width="5.2" height="3.1" fill="#1ae61a" stroke="#1a1a1a" stroke-width="0.6" stroke-opacity="0.7"/>
<rect x="532.9" y="501.75" width="5.2" height="3.1" fill="#1414d2" stroke="#1a1a1a" stroke-width="0.6" stroke-opacity="0.7"/>
<rect x="548.2" y="514.65" width="5.2" height="3.1" fill="#f2e200" stroke="#1a1a1a" stroke-width="0.6" stroke-opacity="0.7"/>
<rect x="564" y="484.65" width="5.2" height="3.1" fill="#1ae61a" stroke="#1a1a1a" stroke-width="0.6" stroke-opacity="0.7"/>
<rect x="579.3" y="505.25" width="5.2" height="3.1" fill="#22d6ea" stroke="#1a1a1a" stroke-width="0.6" stroke-opacity="0.7"/>
<rect x="594.8" y="495.85" width="5.2" height="3.1" fill="#f00000" stroke="#1a1a1a" stroke-width="0.6" stroke-opacity="0.7"/>
<rect x="610.2" y="520.35" width="5.2" height="3.1" fill="#1ae61a" stroke="#1a1a1a" stroke-width="0.6" stroke-opacity="0.7"/>
<rect x="626.2" y="493.85" width="5.2" height="3.1" fill="#f24400" stroke="#1a1a1a" stroke-width="0.6" stroke-opacity="0.7"/>
<rect x="641.3" y="477.45" width="5.2" height="3.1" fill="#1ae61a" stroke="#1a1a1a" stroke-width="0.6" stroke-opacity="0.7"/>
<rect x="657" y="492.35" width="5.2" height="3.1" fill="#f24400" stroke="#1a1a1a" stroke-width="0.6" stroke-opacity="0.7"/>
<rect x="402.6" y="448.8" width="35" height="26.9" fill="#fff" stroke="#5a7eae" stroke-width="1.25" />
<g transform="translate(420.1,468.92) scale(0.84,1)"><text x="0" y="0" text-anchor="middle" font-family="Liberation Serif" font-size="20.2" fill="#000">F</text></g>
<g transform="translate(355.6,502.1) scale(0.93,1) rotate(-90)"><text x="0" y="0" text-anchor="middle" font-family="Liberation Serif" font-weight="bold" font-size="15.5" fill="#000" textLength="66.2" lengthAdjust="spacingAndGlyphs">Residuals</text></g>
<line x1="69.5" y1="821" x2="69.5" y2="826" stroke="#888" stroke-width="1" />
<line x1="49" y1="810.9" x2="55.8" y2="810.9" stroke="#999" stroke-width="1" />
<text x="69.5" y="834.84" text-anchor="middle" font-family="Liberation Sans" font-size="6.5" fill="#222" textLength="11.93" lengthAdjust="spacingAndGlyphs">300</text>
<text x="45.9" y="811.64" text-anchor="end" font-family="Liberation Sans" font-size="6.5" fill="#222" textLength="11.93" lengthAdjust="spacingAndGlyphs">300</text>
<line x1="130.35" y1="821" x2="130.35" y2="826" stroke="#888" stroke-width="1" />
<line x1="49" y1="764.02" x2="55.8" y2="764.02" stroke="#999" stroke-width="1" />
<text x="130.35" y="834.84" text-anchor="middle" font-family="Liberation Sans" font-size="6.5" fill="#222" textLength="11.93" lengthAdjust="spacingAndGlyphs">350</text>
<text x="45.9" y="764.76" text-anchor="end" font-family="Liberation Sans" font-size="6.5" fill="#222" textLength="11.93" lengthAdjust="spacingAndGlyphs">350</text>
<line x1="191.2" y1="821" x2="191.2" y2="826" stroke="#888" stroke-width="1" />
<line x1="49" y1="717.15" x2="55.8" y2="717.15" stroke="#999" stroke-width="1" />
<text x="191.2" y="834.84" text-anchor="middle" font-family="Liberation Sans" font-size="6.5" fill="#222" textLength="11.93" lengthAdjust="spacingAndGlyphs">400</text>
<text x="45.9" y="717.89" text-anchor="end" font-family="Liberation Sans" font-size="6.5" fill="#222" textLength="11.93" lengthAdjust="spacingAndGlyphs">400</text>
<line x1="252.05" y1="821" x2="252.05" y2="826" stroke="#888" stroke-width="1" />
<line x1="49" y1="670.27" x2="55.8" y2="670.27" stroke="#999" stroke-width="1" />
<text x="252.05" y="834.84" text-anchor="middle" font-family="Liberation Sans" font-size="6.5" fill="#222" textLength="11.93" lengthAdjust="spacingAndGlyphs">450</text>
<text x="45.9" y="671.01" text-anchor="end" font-family="Liberation Sans" font-size="6.5" fill="#222" textLength="11.93" lengthAdjust="spacingAndGlyphs">450</text>
<line x1="312.9" y1="821" x2="312.9" y2="826" stroke="#888" stroke-width="1" />
<line x1="49" y1="623.4" x2="55.8" y2="623.4" stroke="#999" stroke-width="1" />
<text x="312.9" y="834.84" text-anchor="middle" font-family="Liberation Sans" font-size="6.5" fill="#222" textLength="11.93" lengthAdjust="spacingAndGlyphs">500</text>
<text x="45.9" y="624.14" text-anchor="end" font-family="Liberation Sans" font-size="6.5" fill="#222" textLength="11.93" lengthAdjust="spacingAndGlyphs">500</text>
<line x1="69.5" y1="810.9" x2="312.9" y2="623.4" stroke="#8a8a8a" stroke-width="1.1" />
<line x1="55" y1="612.9" x2="327.4" y2="612.9" stroke="#a2a2a2" stroke-width="1.9" />
<line x1="55" y1="821" x2="327.4" y2="821" stroke="#a2a2a2" stroke-width="1.9" />
<line x1="55.8" y1="612.9" x2="55.8" y2="821" stroke="#787878" stroke-width="1.6" />
<line x1="326.6" y1="612.9" x2="326.6" y2="821" stroke="#787878" stroke-width="1.6" />
<rect x="97.85" y="775.35" width="5.3" height="3.5" fill="#1414d2" stroke="#1a1a1a" stroke-width="0.6" stroke-opacity="0.7"/>
<rect x="134.65" y="762.75" width="5.3" height="3.5" fill="#1fb2f2" stroke="#1a1a1a" stroke-width="0.6" stroke-opacity="0.7"/>
<rect x="146.95" y="743.45" width="5.3" height="3.5" fill="#22d6ea" stroke="#1a1a1a" stroke-width="0.6" stroke-opacity="0.7"/>
<rect x="158.35" y="737.15" width="5.3" height="3.5" fill="#22e0a8" stroke="#1a1a1a" stroke-width="0.6" stroke-opacity="0.7"/>
<rect x="164.45" y="735.35" width="5.3" height="3.5" fill="#22e0a8" stroke="#1a1a1a" stroke-width="0.6" stroke-opacity="0.7"/>
<rect x="188.95" y="723.15" width="5.3" height="3.5" fill="#1ae61a" stroke="#1a1a1a" stroke-width="0.6" stroke-opacity="0.7"/>
<rect x="195.45" y="714.05" width="5.3" height="3.5" fill="#1ae61a" stroke="#1a1a1a" stroke-width="0.6" stroke-opacity="0.7"/>
<rect x="219.25" y="678.35" width="5.3" height="3.5" fill="#8ee022" stroke="#1a1a1a" stroke-width="0.6" stroke-opacity="0.7"/>
<rect x="233.25" y="678.35" width="5.3" height="3.5" fill="#f2e200" stroke="#1a1a1a" stroke-width="0.6" stroke-opacity="0.7"/>
<rect x="237.95" y="678.35" width="5.3" height="3.5" fill="#f2e200" stroke="#1a1a1a" stroke-width="0.6" stroke-opacity="0.7"/>
<rect x="242.55" y="678.35" width="5.3" height="3.5" fill="#f2e200" stroke="#1a1a1a" stroke-width="0.6" stroke-opacity="0.7"/>
<rect x="240.45" y="671.15" width="5.3" height="3.5" fill="#f2e200" stroke="#1a1a1a" stroke-width="0.6" stroke-opacity="0.7"/>
<rect x="250.45" y="678.35" width="5.3" height="3.5" fill="#f2b400" stroke="#1a1a1a" stroke-width="0.6" stroke-opacity="0.7"/>
<rect x="268.35" y="658.55" width="5.3" height="3.5" fill="#f26a00" stroke="#1a1a1a" stroke-width="0.6" stroke-opacity="0.7"/>
<rect x="275.85" y="640.15" width="5.3" height="3.5" fill="#f24400" stroke="#1a1a1a" stroke-width="0.6" stroke-opacity="0.7"/>
<rect x="285.25" y="635.05" width="5.3" height="3.5" fill="#f00000" stroke="#1a1a1a" stroke-width="0.6" stroke-opacity="0.7"/>
<rect x="286.35" y="650.15" width="5.3" height="3.5" fill="#f00000" stroke="#1a1a1a" stroke-width="0.6" stroke-opacity="0.7"/>
<rect x="73" y="629.8" width="35" height="27.4" fill="#fff" stroke="#5a7eae" stroke-width="1.25" />
<g transform="translate(90.5,650.17) scale(0.84,1)"><text x="0" y="0" text-anchor="middle" font-family="Liberation Serif" font-size="20.2" fill="#000">G</text></g>
<g transform="translate(17.7,710.25) scale(0.93,1) rotate(-90)"><text x="0" y="0" text-anchor="middle" font-family="Liberation Serif" font-weight="bold" font-size="15.5" fill="#000" textLength="151.5" lengthAdjust="spacingAndGlyphs">Predicted Flux of ATN</text></g>
<line x1="385.8" y1="623" x2="392.8" y2="623" stroke="#999" stroke-width="1" />
<text x="382.9" y="623.93" text-anchor="end" font-family="Liberation Sans" font-size="7.3" fill="#222" textLength="15.06" lengthAdjust="spacingAndGlyphs">6.00</text>
<line x1="385.8" y1="653.4" x2="392.8" y2="653.4" stroke="#999" stroke-width="1" />
<text x="382.9" y="654.33" text-anchor="end" font-family="Liberation Sans" font-size="7.3" fill="#222" textLength="15.06" lengthAdjust="spacingAndGlyphs">4.00</text>
<line x1="385.8" y1="683.8" x2="392.8" y2="683.8" stroke="#999" stroke-width="1" />
<text x="382.9" y="684.73" text-anchor="end" font-family="Liberation Sans" font-size="7.3" fill="#222" textLength="15.06" lengthAdjust="spacingAndGlyphs">2.00</text>
<line x1="385.8" y1="714.2" x2="392.8" y2="714.2" stroke="#999" stroke-width="1" />
<text x="382.9" y="715.13" text-anchor="end" font-family="Liberation Sans" font-size="7.3" fill="#222" textLength="15.06" lengthAdjust="spacingAndGlyphs">0.00</text>
<line x1="385.8" y1="744.6" x2="392.8" y2="744.6" stroke="#999" stroke-width="1" />
<text x="382.9" y="745.53" text-anchor="end" font-family="Liberation Sans" font-size="7.3" fill="#222" textLength="17.64" lengthAdjust="spacingAndGlyphs">-2.00</text>
<line x1="385.8" y1="775" x2="392.8" y2="775" stroke="#999" stroke-width="1" />
<text x="382.9" y="775.93" text-anchor="end" font-family="Liberation Sans" font-size="7.3" fill="#222" textLength="17.64" lengthAdjust="spacingAndGlyphs">-4.00</text>
<line x1="385.8" y1="805.4" x2="392.8" y2="805.4" stroke="#999" stroke-width="1" />
<text x="382.9" y="806.33" text-anchor="end" font-family="Liberation Sans" font-size="7.3" fill="#222" textLength="17.64" lengthAdjust="spacingAndGlyphs">-6.00</text>
<line x1="406.8" y1="815" x2="406.8" y2="818.8" stroke="#777" stroke-width="1" />
<text x="406.8" y="828.5" text-anchor="middle" font-family="Liberation Sans" font-size="6.4" fill="#222" textLength="4.45" lengthAdjust="spacingAndGlyphs">1</text>
<line x1="422.8" y1="815" x2="422.8" y2="817.2" stroke="#777" stroke-width="1" />
<line x1="438.8" y1="815" x2="438.8" y2="818.8" stroke="#777" stroke-width="1" />
<text x="438.8" y="828.5" text-anchor="middle" font-family="Liberation Sans" font-size="6.4" fill="#222" textLength="4.45" lengthAdjust="spacingAndGlyphs">3</text>
<line x1="454.8" y1="815" x2="454.8" y2="817.2" stroke="#777" stroke-width="1" />
<line x1="470.8" y1="815" x2="470.8" y2="818.8" stroke="#777" stroke-width="1" />
<text x="470.8" y="828.5" text-anchor="middle" font-family="Liberation Sans" font-size="6.4" fill="#222" textLength="4.45" lengthAdjust="spacingAndGlyphs">5</text>
<line x1="486.8" y1="815" x2="486.8" y2="817.2" stroke="#777" stroke-width="1" />
<line x1="502.8" y1="815" x2="502.8" y2="818.8" stroke="#777" stroke-width="1" />
<text x="502.8" y="828.5" text-anchor="middle" font-family="Liberation Sans" font-size="6.4" fill="#222" textLength="4.45" lengthAdjust="spacingAndGlyphs">7</text>
<line x1="518.8" y1="815" x2="518.8" y2="817.2" stroke="#777" stroke-width="1" />
<line x1="534.8" y1="815" x2="534.8" y2="818.8" stroke="#777" stroke-width="1" />
<text x="534.8" y="828.5" text-anchor="middle" font-family="Liberation Sans" font-size="6.4" fill="#222" textLength="4.45" lengthAdjust="spacingAndGlyphs">9</text>
<line x1="550.8" y1="815" x2="550.8" y2="817.2" stroke="#777" stroke-width="1" />
<line x1="566.8" y1="815" x2="566.8" y2="818.8" stroke="#777" stroke-width="1" />
<text x="566.8" y="828.5" text-anchor="middle" font-family="Liberation Sans" font-size="6.4" fill="#222" textLength="8.3" lengthAdjust="spacingAndGlyphs">11</text>
<line x1="582.8" y1="815" x2="582.8" y2="817.2" stroke="#777" stroke-width="1" />
<line x1="598.8" y1="815" x2="598.8" y2="818.8" stroke="#777" stroke-width="1" />
<text x="598.8" y="828.5" text-anchor="middle" font-family="Liberation Sans" font-size="6.4" fill="#222" textLength="8.9" lengthAdjust="spacingAndGlyphs">13</text>
<line x1="614.8" y1="815" x2="614.8" y2="817.2" stroke="#777" stroke-width="1" />
<line x1="630.8" y1="815" x2="630.8" y2="818.8" stroke="#777" stroke-width="1" />
<text x="630.8" y="828.5" text-anchor="middle" font-family="Liberation Sans" font-size="6.4" fill="#222" textLength="8.9" lengthAdjust="spacingAndGlyphs">15</text>
<line x1="646.8" y1="815" x2="646.8" y2="817.2" stroke="#777" stroke-width="1" />
<line x1="662.8" y1="815" x2="662.8" y2="818.8" stroke="#777" stroke-width="1" />
<text x="662.8" y="828.5" text-anchor="middle" font-family="Liberation Sans" font-size="6.4" fill="#222" textLength="8.9" lengthAdjust="spacingAndGlyphs">17</text>
<line x1="392.8" y1="640.94" x2="677.3" y2="640.94" stroke="#ff7c7c" stroke-width="1.8" />
<text x="396.1" y="638.54" font-family="Liberation Sans" font-weight="normal" font-size="6.2" fill="#444" textLength="28.1" lengthAdjust="spacingAndGlyphs">4.81963</text>
<line x1="392.8" y1="787.46" x2="677.3" y2="787.46" stroke="#ff7c7c" stroke-width="1.8" />
<text x="396.1" y="785.06" font-family="Liberation Sans" font-weight="normal" font-size="6.2" fill="#444" textLength="30.91" lengthAdjust="spacingAndGlyphs">-4.81963</text>
<line x1="392.8" y1="714.2" x2="677.3" y2="714.2" stroke="#727272" stroke-width="1.8" />
<text x="398.6" y="712.12" text-anchor="middle" font-family="Liberation Sans" font-size="7" fill="#222" textLength="4.87" lengthAdjust="spacingAndGlyphs">0</text>
<polyline points="406.9,697.2 422.8,718 439.2,710 455.1,724.8 470.9,725.8 487,703.1 503,712.1 519.1,718 534.9,749.8 551.3,702 567,697 583,687.2 599.4,678 615,737.7 631.2,730.7 647.2,707.1 662.9,741" fill="none" stroke="#4a4a4a" stroke-width="1"/>
<line x1="392" y1="613.1" x2="678.1" y2="613.1" stroke="#a2a2a2" stroke-width="1.9" />
<line x1="392" y1="815" x2="678.1" y2="815" stroke="#a2a2a2" stroke-width="1.9" />
<line x1="392.8" y1="613.1" x2="392.8" y2="815" stroke="#787878" stroke-width="1.6" />
<line x1="677.3" y1="613.1" x2="677.3" y2="815" stroke="#787878" stroke-width="1.6" />
<rect x="404.25" y="695.5" width="5.3" height="3.4" fill="#1fb2f2" stroke="#1a1a1a" stroke-width="0.6" stroke-opacity="0.7"/>
<rect x="420.15" y="716.3" width="5.3" height="3.4" fill="#f2e200" stroke="#1a1a1a" stroke-width="0.6" stroke-opacity="0.7"/>
<rect x="436.55" y="708.3" width="5.3" height="3.4" fill="#22e0a8" stroke="#1a1a1a" stroke-width="0.6" stroke-opacity="0.7"/>
<rect x="452.45" y="723.1" width="5.3" height="3.4" fill="#f2e200" stroke="#1a1a1a" stroke-width="0.6" stroke-opacity="0.7"/>
<rect x="468.25" y="724.1" width="5.3" height="3.4" fill="#22d6ea" stroke="#1a1a1a" stroke-width="0.6" stroke-opacity="0.7"/>
<rect x="484.35" y="701.4" width="5.3" height="3.4" fill="#1ae61a" stroke="#1a1a1a" stroke-width="0.6" stroke-opacity="0.7"/>
<rect x="500.35" y="710.4" width="5.3" height="3.4" fill="#f2e200" stroke="#1a1a1a" stroke-width="0.6" stroke-opacity="0.7"/>
<rect x="516.45" y="716.3" width="5.3" height="3.4" fill="#22e0a8" stroke="#1a1a1a" stroke-width="0.6" stroke-opacity="0.7"/>
<rect x="532.25" y="748.1" width="5.3" height="3.4" fill="#1414d2" stroke="#1a1a1a" stroke-width="0.6" stroke-opacity="0.7"/>
<rect x="548.65" y="700.3" width="5.3" height="3.4" fill="#f26a00" stroke="#1a1a1a" stroke-width="0.6" stroke-opacity="0.7"/>
<rect x="564.35" y="695.3" width="5.3" height="3.4" fill="#f2b400" stroke="#1a1a1a" stroke-width="0.6" stroke-opacity="0.7"/>
<rect x="580.35" y="685.5" width="5.3" height="3.4" fill="#1ae61a" stroke="#1a1a1a" stroke-width="0.6" stroke-opacity="0.7"/>
<rect x="596.75" y="676.3" width="5.3" height="3.4" fill="#f00000" stroke="#1a1a1a" stroke-width="0.6" stroke-opacity="0.7"/>
<rect x="612.35" y="736" width="5.3" height="3.4" fill="#8ee022" stroke="#1a1a1a" stroke-width="0.6" stroke-opacity="0.7"/>
<rect x="628.55" y="729" width="5.3" height="3.4" fill="#f00000" stroke="#1a1a1a" stroke-width="0.6" stroke-opacity="0.7"/>
<rect x="644.55" y="705.4" width="5.3" height="3.4" fill="#f2e200" stroke="#1a1a1a" stroke-width="0.6" stroke-opacity="0.7"/>
<rect x="660.25" y="739.3" width="5.3" height="3.4" fill="#f24400" stroke="#1a1a1a" stroke-width="0.6" stroke-opacity="0.7"/>
<rect x="414.5" y="650.3" width="34.7" height="26.8" fill="#fff" stroke="#5a7eae" stroke-width="1.25" />
<g transform="translate(431.85,670.37) scale(0.84,1)"><text x="0" y="0" text-anchor="middle" font-family="Liberation Serif" font-size="20.2" fill="#000">H</text></g>
<g transform="translate(355.2,723.5) scale(0.93,1) rotate(-90)"><text x="0" y="0" text-anchor="middle" font-family="Liberation Serif" font-weight="bold" font-size="15.5" fill="#000" textLength="65.6" lengthAdjust="spacingAndGlyphs">Residuals</text></g>
<rect x="124.2" y="587.88" width="117.4" height="12.33" fill="#fff" stroke="none" stroke-width="1" />
<text x="125.7" y="597.7" font-family="Liberation Serif" font-weight="bold" font-size="15" fill="#000" textLength="114.4" lengthAdjust="spacingAndGlyphs">Actual Flux of GLB</text>
<rect x="465.9" y="594.38" width="134.5" height="12.33" fill="#fff" stroke="none" stroke-width="1" />
<text x="467.4" y="604.2" font-family="Liberation Serif" font-weight="bold" font-size="15" fill="#000" textLength="131.5" lengthAdjust="spacingAndGlyphs">Observed Flux of GLB</text>
<rect x="118.5" y="836.17" width="116.5" height="11.93" fill="#fff" stroke="none" stroke-width="1" />
<text x="120" y="845.6" font-family="Liberation Serif" font-weight="bold" font-size="14.4" fill="#000" textLength="113.5" lengthAdjust="spacingAndGlyphs">Actual Flux of ATN</text>
<rect x="460.9" y="836.11" width="132.5" height="12.19" fill="#fff" stroke="none" stroke-width="1" />
<text x="462.4" y="845.8" font-family="Liberation Serif" font-weight="bold" font-size="14.8" fill="#000" textLength="129.5" lengthAdjust="spacingAndGlyphs">Observed Flux of ATN</text>
</g>
</svg>
</body></html>
